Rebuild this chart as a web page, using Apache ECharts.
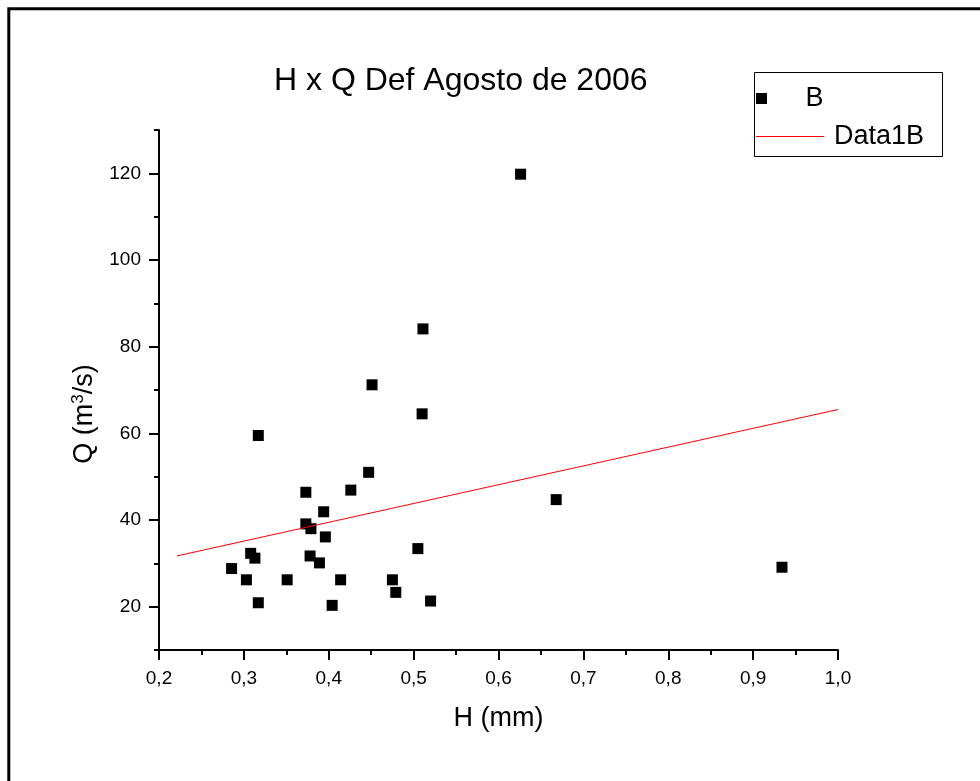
<!DOCTYPE html>
<html>
<head>
<meta charset="utf-8">
<script src="https://cdn.jsdelivr.net/npm/echarts@6/dist/echarts.min.js"></script>
<style>
html,body{margin:0;padding:0;background:#fff;}
#chart{width:980px;height:781px;}
</style>
</head>
<body>
<div id="chart"></div>
<script>
// Series "B": H (mm) values and Q (m3/s) values
const hValues = [0.626, 0.511, 0.451, 0.510, 0.317, 0.447, 0.426, 0.373, 0.394, 0.668,
                 0.373, 0.379, 0.396, 0.505, 0.308, 0.313, 0.378, 0.389, 0.2855, 0.934,
                 0.303, 0.351, 0.414, 0.475, 0.479, 0.520, 0.317, 0.404];
const qValues = [119.8, 84.1, 71.2, 64.5, 59.5, 51.0, 46.9, 46.4, 41.9, 44.7,
                 39.1, 38.0, 36.1, 33.4, 32.3, 31.2, 31.7, 30.1, 28.8, 29.1,
                 26.2, 26.2, 26.2, 26.2, 23.3, 21.3, 20.9, 20.3];
// Series "Data1B": fitted line endpoints
const fitH = [0.221, 1.0];
const fitQ = [31.7, 65.5];
// Tick values
const yMajorTicks = [20, 40, 60, 80, 100, 120];

const FONT = "'Liberation Sans', Arial, sans-serif";
const legendText = {fontFamily: FONT, fontSize: 27, color: '#000', lineHeight: 24, padding: [0, 0, 0, 5]};
const chart = echarts.init(document.getElementById('chart'), null, {renderer: 'canvas'});
const option = {
  backgroundColor: '#ffffff',
  animation: false,
  title: {
    text: 'H x Q Def Agosto de 2006',
    left: 269,
    top: 60,
    textStyle: {fontFamily: FONT, fontSize: 32, fontWeight: 'normal', color: '#000'}
  },
  legend: [{
    left: 756,
    top: 85,
    z: 10,
    padding: 0,
    selectedMode: false,
    itemWidth: 68,
    itemHeight: 11,
    icon: 'path://M0,0L10,0L10,10L0,10Z',
    itemStyle: {color: '#000000', borderWidth: 0},
    textStyle: legendText,
    data: ['B']
  }, {
    left: 756,
    top: 123,
    z: 10,
    padding: 0,
    selectedMode: false,
    itemWidth: 68,
    itemHeight: 1,
    icon: 'rect',
    itemStyle: {color: '#ff0000', borderWidth: 0, opacity: 1},
    textStyle: legendText,
    data: ['Data1B']
  }],
  grid: {left: 159, right: 142, top: 130, bottom: 131, containLabel: false},
  xAxis: {
    type: 'value',
    min: 0.2, max: 1.0, interval: 0.1,
    name: 'H (mm)',
    nameLocation: 'middle',
    nameGap: 55,
    nameTextStyle: {fontFamily: FONT, fontSize: 27, color: '#000'},
    axisLine: {show: true, onZero: false, lineStyle: {color: '#000', width: 2}},
    axisTick: {show: true, inside: false, length: 10, lineStyle: {color: '#000', width: 2}},
    minorTick: {show: true, splitNumber: 2, length: 5, lineStyle: {color: '#000', width: 2}},
    splitLine: {show: false},
    axisLabel: {
      margin: 19, fontFamily: FONT, fontSize: 19, color: '#000',
      formatter: v => v.toFixed(1).replace('.', ',')
    }
  },
  yAxis: [{
    type: 'value',
    position: 'left',
    min: 10, max: 130, interval: 10,
    name: 'Q (m{sup|3}/s)',
    nameLocation: 'middle',
    nameGap: 58,
    nameRotate: 90,
    nameTextStyle: {
      fontFamily: FONT, fontSize: 27, color: '#000',
      padding: [0, 48, 0, 0],
      rich: {sup: {fontFamily: FONT, fontSize: 17, color: '#000', verticalAlign: 'top', padding: [0, 0, 14, 0]}}
    },
    axisLine: {show: true, onZero: false, lineStyle: {color: '#000', width: 2}},
    axisTick: {show: true, inside: false, length: 5, lineStyle: {color: '#000', width: 2}},
    splitLine: {show: false},
    axisLabel: {
      margin: 18, fontFamily: FONT, fontSize: 19, color: '#000',
      customValues: yMajorTicks
    }
  }, {
    type: 'value',
    position: 'left',
    offset: 0,
    min: 10, max: 130,
    axisLine: {show: false},
    axisTick: {show: true, inside: false, length: 10, customValues: yMajorTicks, lineStyle: {color: '#000', width: 2}},
    axisLabel: {show: false},
    splitLine: {show: false}
  }],
  graphic: [{
    type: 'polyline',
    silent: true,
    shape: {points: [[8.8, 781], [8.8, 8.8], [980, 8.8]]},
    style: {stroke: '#000', lineWidth: 3, fill: null}
  }, {
    type: 'rect',
    silent: true,
    z: 0,
    shape: {x: 754.5, y: 72.5, width: 188, height: 84},
    style: {stroke: '#000', lineWidth: 1, fill: '#fff'}
  }],
  series: [{
    name: 'B',
    type: 'scatter',
    symbol: 'rect',
    symbolSize: 11,
    itemStyle: {color: '#000', opacity: 1},
    data: hValues.map((h, i) => [h, qValues[i]])
  }, {
    name: 'Data1B',
    type: 'line',
    symbol: 'none',
    showSymbol: false,
    lineStyle: {color: '#ff0000', width: 1},
    itemStyle: {color: '#ff0000'},
    data: fitH.map((h, i) => [h, fitQ[i]])
  }]
};
chart.setOption(option);
</script>
</body>
</html>
